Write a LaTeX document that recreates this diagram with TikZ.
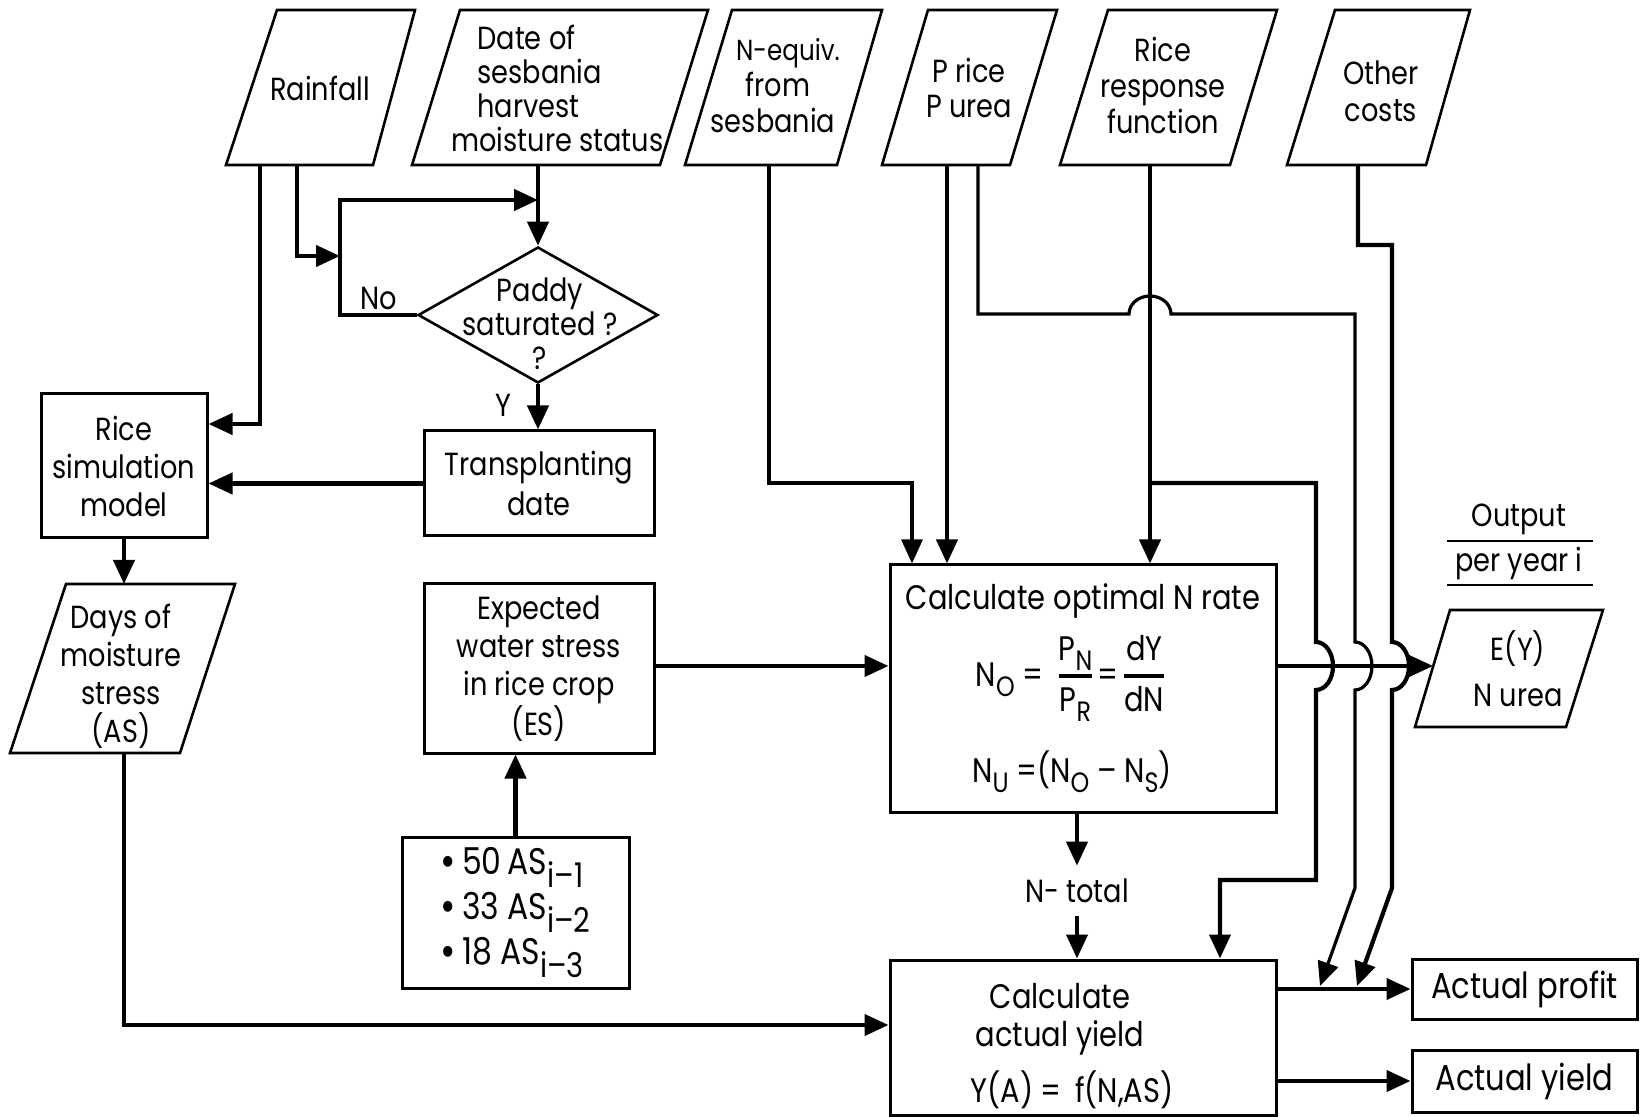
\documentclass[tikz,border=0pt]{standalone}
\usepackage{fontspec}
\setmainfont{Poppins}[FakeStretch=0.85]
\usetikzlibrary{arrows.meta,shapes.geometric}
\setlength{\arrayrulewidth}{1.6pt}
\newcommand\sbx[1]{\raisebox{-0.55ex}{\fontsize{14}{14}\selectfont #1}}
\newcommand\sbxb[1]{\raisebox{-0.6ex}{\fontsize{17}{17}\selectfont #1}}
\newcommand\bul{\raisebox{-1pt}{\fontsize{22}{22}\selectfont\textbullet}\,}
\newcommand\frc[2]{\begin{tabular}{@{}c@{}}#1\\[1pt]\hline\rule{0pt}{17pt}#2\end{tabular}}
\begin{document}
\begin{tikzpicture}[x=0.5pt,y=-0.5pt,
  pgram/.style={draw,line width=1.3pt,line join=miter},
  box/.style={draw,line width=1.5pt,inner sep=0pt,align=center,font=\fontsize{16}{19}\selectfont},
  txt/.style={inner sep=0pt,align=center,font=\fontsize{16}{18}\selectfont},
  conn/.style={line width=2.1pt,-{Triangle[length=12pt,width=10.5pt]}},
  thinconn/.style={line width=1.6pt,-{Triangle[length=12pt,width=10.5pt]}},
]
\fill[white] (0,0) rectangle (1640,1117);
\useasboundingbox (0,0) rectangle (1640,1117);

% ---- input parallelograms
\draw[pgram] (277,10)--(415,10)--(373,165)--(226,165)--cycle;
\node[txt] (rain) at (320,88) {Rainfall};
\draw[pgram] (460,10)--(708,10)--(660,165)--(412,165)--cycle;
\node[txt,align=left,anchor=west,font=\fontsize{16}{17}\selectfont] (date) at (451,88)
  {\hspace*{13pt}Date of\\\hspace*{13pt}sesbania\\\hspace*{13pt}harvest\\moisture status};
\draw[pgram] (732,10)--(882,10)--(837,165)--(685,165)--cycle;
\node[txt] (nequ) at (778,86) {\hspace*{10pt}{\fontsize{14.5}{18}\selectfont N-equiv.}\\from\\sesbania\hspace*{5pt}};
\draw[pgram] (928,10)--(1057,10)--(1010,165)--(882,165)--cycle;
\node[txt,font=\fontsize{16}{17.5}\selectfont] (price) at (969,88) {P rice\\P urea};
\draw[pgram] (1108,10)--(1277,10)--(1230,165)--(1060,165)--cycle;
\node[txt] (resp) at (1163,85) {Rice\\response\\function};
\draw[pgram] (1335,10)--(1470,10)--(1426,165)--(1287,165)--cycle;
\node[txt,font=\fontsize{16}{18.5}\selectfont] (other) at (1381,91) {Other\\costs};
\draw[pgram] (66,584)--(235,584)--(180,753)--(10,753)--cycle;
\node[txt,font=\fontsize{16}{19}\selectfont] (days) at (121,676) {Days of\\moisture\\stress\\(AS)};
\draw[pgram] (1450,610)--(1603,610)--(1566,727)--(1415,727)--cycle;
\node[txt,font=\fontsize{16}{23}\selectfont] (ey) at (1518,669) {E(Y)\\N urea};

\coordinate (rainB1) at (260,165);
\coordinate (rainB2) at (297,165);
\coordinate (dateB) at (538,165);
\coordinate (nequB) at (769,165);
\coordinate (priceB1) at (947,165);
\coordinate (priceB2) at (978,165);
\coordinate (respB) at (1150,165);
\coordinate (otherB) at (1358,166);
\coordinate (daysT) at (124,584);
\coordinate (daysB) at (124,753);
\coordinate (eyL) at (1433,666);

% ---- boxes
\node[box,minimum width=83pt,minimum height=72pt] (sim) at (124,466) {Rice\\simulation\\model};
\node[box,minimum width=115pt,minimum height=52.5pt,font=\fontsize{16}{20}\selectfont] (trans) at (539,483.5) {Transplanting\\date};
\node[box,minimum width=115pt,minimum height=84.5pt] (es) at (539,668.5) {Expected\\water stress\\in rice crop\\(ES)};
\node[box,minimum width=113.5pt,minimum height=75.5pt,align=left,font=\fontsize{18.5}{22.5}\selectfont] (bul) at (515.5,912.5)
  {\bul 50\,AS\sbxb{i–1}\\\bul 33 AS\sbxb{i–2}\\\bul 18 AS\sbxb{i–3}};
\node[box,minimum width=193pt,minimum height=123.5pt] (cop) at (1083,688.5) {};
\node[txt,font=\fontsize{17}{20}\selectfont] (copT) at (1083,601) {Calculate optimal N rate};
\node[txt,font=\fontsize{17}{20}\selectfont] (copEq) at (1070,678) {N\sbx{O} =\ \ \frc{P\sbx{N}}{P\sbx{R}}\,=\,\frc{dY}{dN}};
\node[txt,font=\fontsize{17}{20}\selectfont] (copNU) at (1072,772) {N\sbx{U} =(N\sbx{O} – N\sbx{S})};
\node[box,minimum width=193pt,minimum height=77.5pt] (cay) at (1083,1037.5) {};
\node[txt,font=\fontsize{17}{19}\selectfont] (cayT) at (1060,1019) {Calculate\\actual yield};
\node[txt,font=\fontsize{17}{20}\selectfont] (cayF) at (1072,1090) {Y(A) = \,f(N,AS)};
\node[box,minimum width=112.5pt,minimum height=30pt,font=\fontsize{18}{20}\selectfont] (profit) at (1524.5,989) {Actual profit};
\node[box,minimum width=112.5pt,minimum height=31pt,font=\fontsize{18}{20}\selectfont] (ayield) at (1524.5,1081) {Actual yield};
\node[draw,diamond,line width=1.3pt,minimum width=120pt,minimum height=68pt,inner sep=0pt] (dia) at (538,315) {};
\node[txt,font=\fontsize{16}{17}\selectfont] (diaT) at (540,324) {Paddy\\saturated ?\\?};

% ---- labels
\node[txt] (nolbl) at (379,298) {No};
\node[txt] (ylbl) at (503,405) {Y};
\node[txt,minimum height=25pt] (ntot) at (1077,891) {N- total};
\node[txt] (outlbl) at (1519,519) {Output};
\node[txt] (peryr) at (1519,563) {per year i};
\draw[line width=1.4pt] (1447,541) -- (1593,541);
\draw[line width=1.4pt] (1447,585) -- (1593,585);

% ---- connectors
\draw[conn] (rainB1) -- (260,424) -- (sim.east |- 260,424);
\draw[conn] (rainB2) |- (340,256);
\draw[conn] (dia.west) -| (340,200) -- (dateB |- 340,200);
\draw[conn] (dateB) -- (dia.north);
\draw[conn] (dia.south) -- (dia.south |- trans.north);
\draw[conn] (trans.west) -- (trans.west -| sim.east);
\draw[conn] (sim.south) -- (daysT);
\draw[conn] (daysB) |- (cay.west |- 0,1025);
\draw[conn] (bul.north) -- (bul.north |- es.south);
\draw[conn] (es.east |- 0,666) -- (cop.west |- 0,666);
\draw[thinconn] (nequB) |- (912,483) -- (cop.north -| 912,483);
\draw[conn] (priceB1) -- (priceB1 |- cop.north);
\draw[conn] (respB) -- (respB |- cop.north);
\draw[conn] (respB |- 0,483) -- (1316,483) -- (1316,642)
  arc[start angle=-90,end angle=90,x radius=17,y radius=24] -- (1316,880) -- (1220,880) -- (cay.north -| 1220,880);
\draw[thinconn] (priceB2) -- (978,314) -- (1129,314)
  arc[start angle=180,end angle=360,x radius=21,y radius=18] -- (1355,314) -- (1355,642)
  arc[start angle=-90,end angle=90,x radius=17,y radius=24] -- (1355,888) -- (1320,986);
\draw[conn] (otherB) -- (1358,245) -- (1392,245) -- (1392,642)
  arc[start angle=-90,end angle=90,x radius=17,y radius=24] -- (1392,888) -- (1357,986);
\draw[conn] (cop.east |- 0,666) -- (eyL);
\draw[conn] (ntot.south) -- (ntot.south |- cay.north);
\draw[conn] (cop.south -| ntot.north) -- (ntot.north);
\draw[conn] (cay.east |- profit.west) -- (profit.west);
\draw[conn] (cay.east |- ayield.west) -- (ayield.west);
\end{tikzpicture}
\end{document}
